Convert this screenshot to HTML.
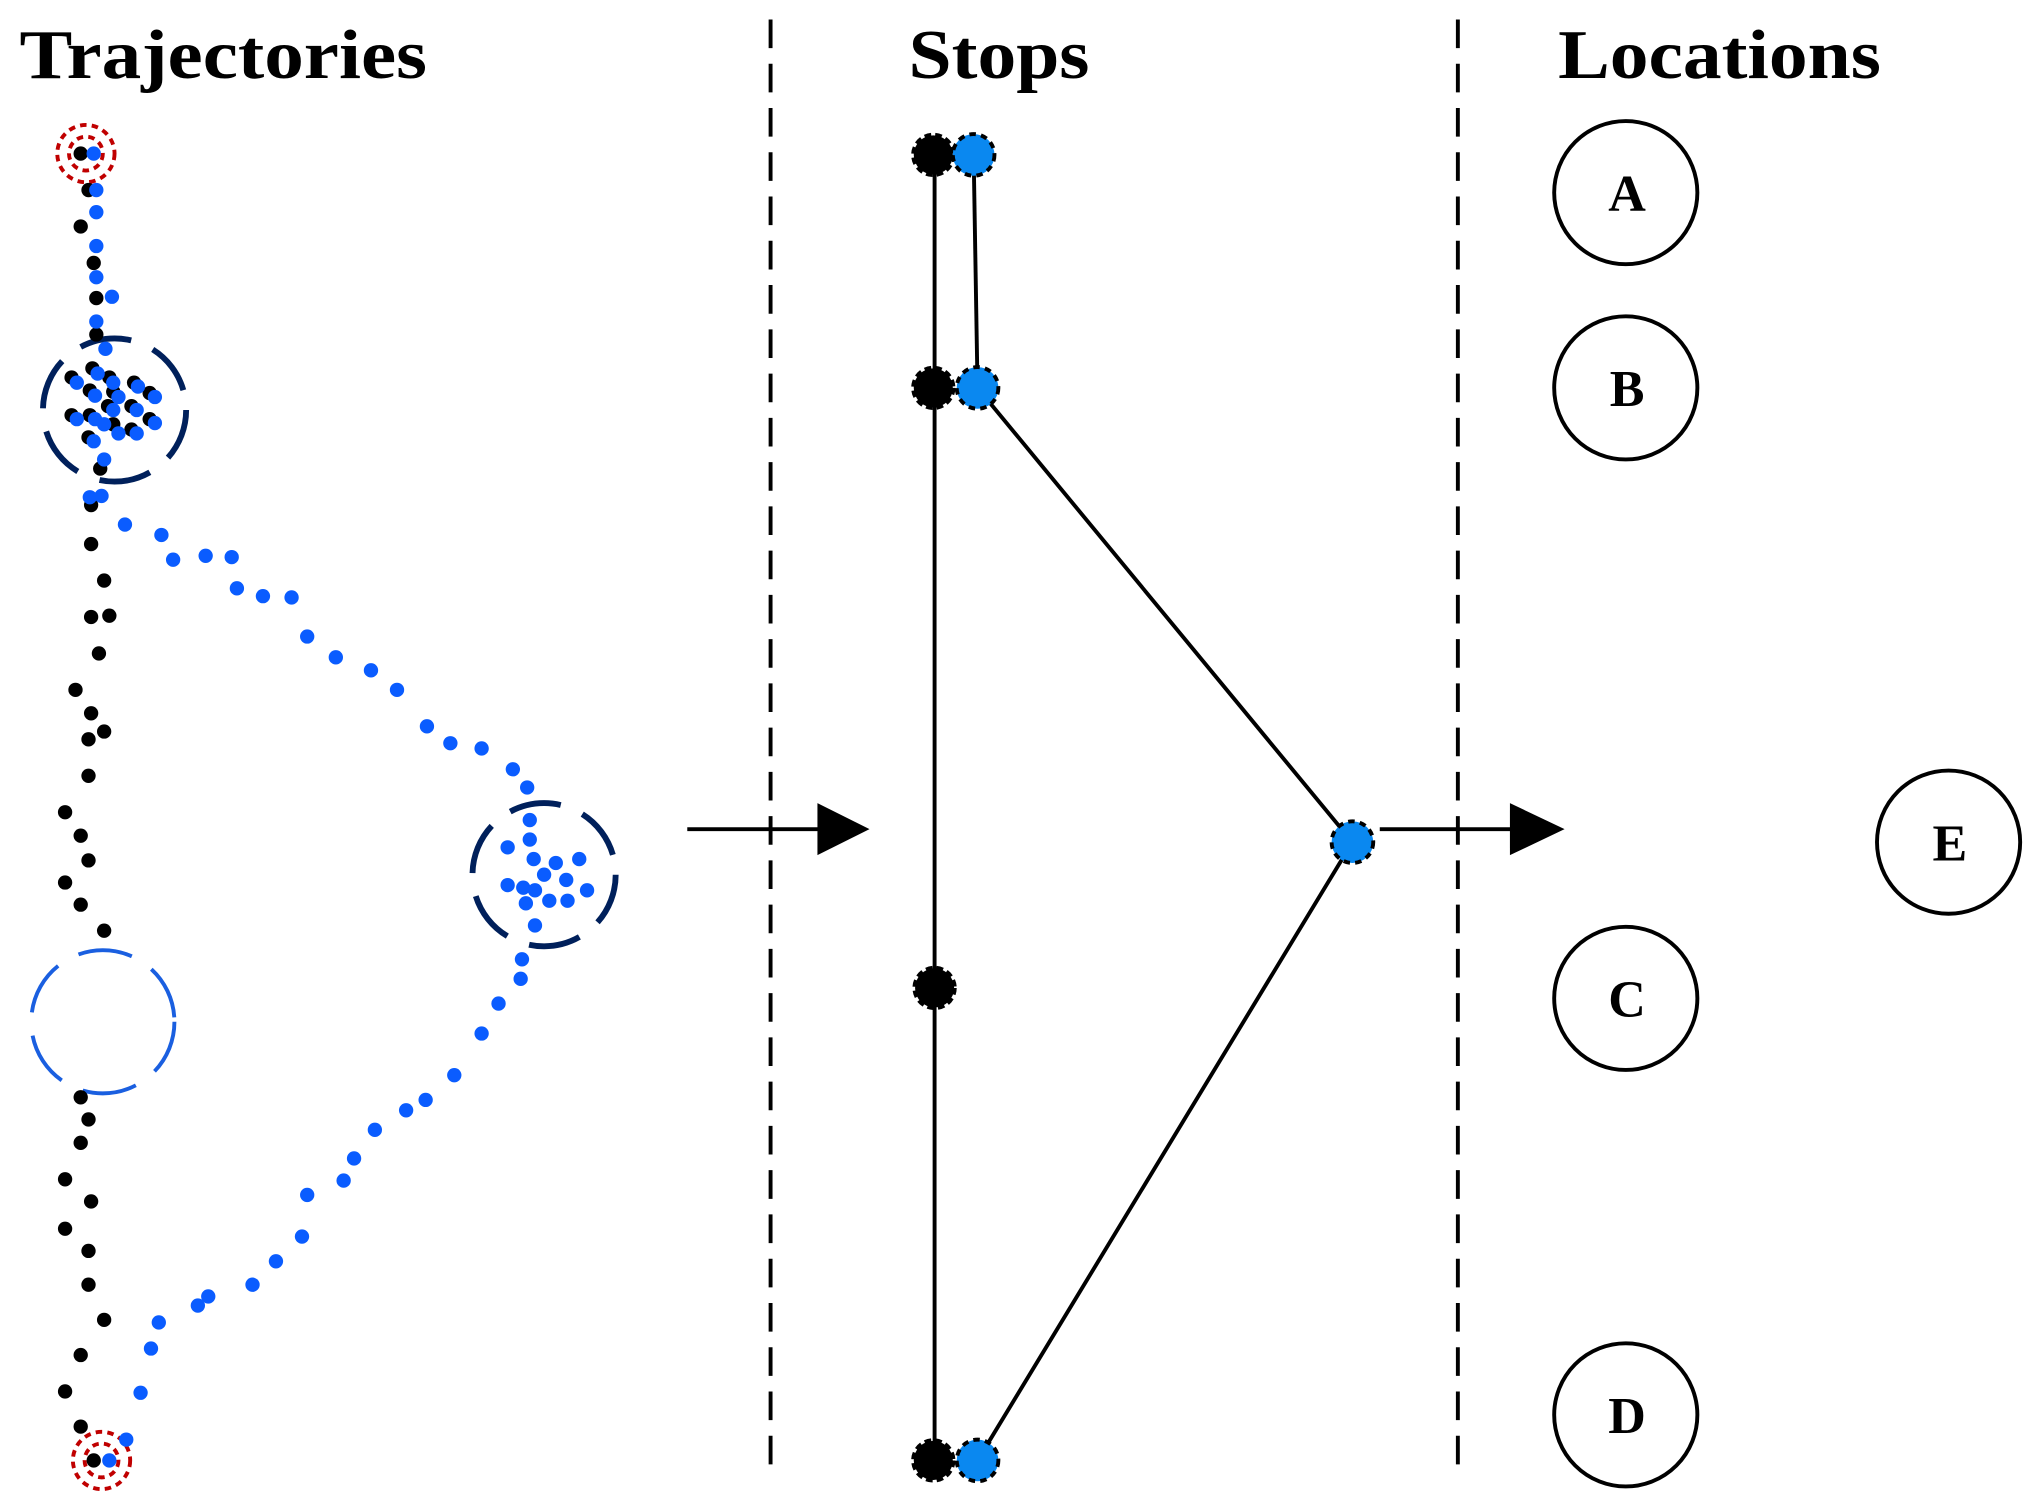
<!DOCTYPE html>
<html><head><meta charset="utf-8"><style>html,body{margin:0;padding:0;background:#fff}svg{display:block}</style></head><body>
<svg width="2041" height="1506" viewBox="0 0 1568 1157" preserveAspectRatio="none" xmlns="http://www.w3.org/2000/svg">
<g font-family="Liberation Serif, serif" font-weight="bold" fill="#000">
<text x="15" y="60" font-size="54" textLength="313" lengthAdjust="spacingAndGlyphs">Trajectories</text>
<text x="698" y="60" font-size="54" textLength="139" lengthAdjust="spacingAndGlyphs">Stops</text>
<text x="1197" y="60" font-size="54" textLength="248" lengthAdjust="spacingAndGlyphs">Locations</text>
</g>
<g stroke="#000" stroke-width="3" stroke-dasharray="22 12">
<line x1="592" y1="15" x2="592" y2="1125"/>
<line x1="1120" y1="15" x2="1120" y2="1125"/>
</g>
<g stroke="#000" stroke-width="3">
<line x1="528" y1="637" x2="632" y2="637"/>
<line x1="1060" y1="637" x2="1164" y2="637"/>
</g>
<polygon points="628,617 668,637 628,657" fill="#000"/>
<polygon points="1160,617 1202,637 1160,657" fill="#000"/>
<g fill="none" stroke="#000" stroke-width="3">
<circle cx="1249" cy="148" r="55"/><circle cx="1249" cy="298" r="55"/>
<circle cx="1249" cy="767" r="55"/><circle cx="1249" cy="1087" r="55"/>
<circle cx="1497" cy="647" r="55"/>
</g>
<g font-family="Liberation Serif, serif" font-weight="bold" font-size="40" text-anchor="middle">
<text x="1250" y="162">A</text><text x="1250" y="312">B</text>
<text x="1250" y="781">C</text><text x="1250" y="1101">D</text>
<text x="1498" y="661">E</text>
</g>
<g stroke="#000" stroke-width="3" fill="none">
<line x1="718" y1="119" x2="718" y2="1122"/>
<polyline points="748,119 751,298"/>
<polyline points="751,298 1039,647 751,1122"/>
</g>
<g fill="#000" stroke="#000" stroke-width="4" stroke-dasharray="5 3">
<circle cx="717" cy="119" r="15"/><circle cx="717" cy="298" r="15"/>
<circle cx="718" cy="759" r="15"/><circle cx="717" cy="1122" r="15"/>
</g>
<g fill="#0a88f0" stroke="#000" stroke-width="3" stroke-dasharray="5 4">
<circle cx="748" cy="119" r="16"/><circle cx="751" cy="298" r="16"/>
<circle cx="751" cy="1122" r="16"/><circle cx="1039" cy="647" r="16"/>
</g>
<g fill="none" stroke="#c00000" stroke-width="3" stroke-dasharray="5 4">
<circle cx="66" cy="118" r="22"/><circle cx="66" cy="118" r="13"/>
<circle cx="78" cy="1122" r="22"/><circle cx="78" cy="1122" r="13"/>
</g>
<g fill="none" stroke="#00205b" stroke-width="4.5" stroke-dasharray="40 18">
<circle cx="88" cy="315" r="55"/>
<circle cx="418" cy="672" r="55"/>
</g>
<circle cx="79" cy="785" r="55" fill="none" stroke="#1a5fe0" stroke-width="3" stroke-dasharray="42 18"/>
<g fill="#000">
<circle cx="62" cy="118" r="5.5"/><circle cx="68" cy="146" r="5.5"/><circle cx="62" cy="174" r="5.5"/><circle cx="72" cy="202" r="5.5"/><circle cx="74" cy="229" r="5.5"/><circle cx="74" cy="257" r="5.5"/>
<circle cx="71" cy="283" r="5.5"/><circle cx="55" cy="290" r="5.5"/><circle cx="84" cy="290" r="5.5"/><circle cx="103" cy="294" r="5.5"/><circle cx="69" cy="300" r="5.5"/><circle cx="87" cy="301" r="5.5"/><circle cx="115" cy="302" r="5.5"/><circle cx="83" cy="312" r="5.5"/><circle cx="101" cy="312" r="5.5"/><circle cx="55" cy="319" r="5.5"/><circle cx="69" cy="319" r="5.5"/><circle cx="87" cy="326" r="5.5"/><circle cx="101" cy="330" r="5.5"/><circle cx="115" cy="322" r="5.5"/><circle cx="68" cy="336" r="5.5"/><circle cx="77" cy="360" r="5.5"/>
<circle cx="70" cy="388" r="5.5"/><circle cx="70" cy="418" r="5.5"/><circle cx="80" cy="446" r="5.5"/><circle cx="70" cy="474" r="5.5"/><circle cx="84" cy="473" r="5.5"/><circle cx="76" cy="502" r="5.5"/><circle cx="58" cy="530" r="5.5"/><circle cx="70" cy="548" r="5.5"/><circle cx="68" cy="568" r="5.5"/><circle cx="80" cy="562" r="5.5"/><circle cx="68" cy="596" r="5.5"/><circle cx="50" cy="624" r="5.5"/><circle cx="62" cy="642" r="5.5"/><circle cx="68" cy="661" r="5.5"/><circle cx="50" cy="678" r="5.5"/><circle cx="62" cy="695" r="5.5"/><circle cx="80" cy="715" r="5.5"/>
<circle cx="62" cy="843" r="5.5"/><circle cx="68" cy="860" r="5.5"/><circle cx="62" cy="878" r="5.5"/><circle cx="50" cy="906" r="5.5"/><circle cx="70" cy="923" r="5.5"/><circle cx="50" cy="944" r="5.5"/><circle cx="68" cy="961" r="5.5"/><circle cx="68" cy="987" r="5.5"/><circle cx="80" cy="1014" r="5.5"/><circle cx="62" cy="1041" r="5.5"/><circle cx="50" cy="1069" r="5.5"/><circle cx="62" cy="1096" r="5.5"/><circle cx="72" cy="1122" r="5.5"/>
</g>
<g fill="#0a5cff">
<circle cx="72" cy="118" r="5.5"/><circle cx="74" cy="146" r="5.5"/><circle cx="74" cy="163" r="5.5"/><circle cx="74" cy="189" r="5.5"/><circle cx="74" cy="213" r="5.5"/><circle cx="86" cy="228" r="5.5"/><circle cx="74" cy="247" r="5.5"/><circle cx="81" cy="268" r="5.5"/>
<circle cx="75" cy="287" r="5.5"/><circle cx="59" cy="294" r="5.5"/><circle cx="87" cy="294" r="5.5"/><circle cx="106" cy="297" r="5.5"/><circle cx="73" cy="304" r="5.5"/><circle cx="91" cy="305" r="5.5"/><circle cx="119" cy="305" r="5.5"/><circle cx="87" cy="315" r="5.5"/><circle cx="105" cy="315" r="5.5"/><circle cx="59" cy="322" r="5.5"/><circle cx="73" cy="322" r="5.5"/><circle cx="80" cy="326" r="5.5"/><circle cx="91" cy="333" r="5.5"/><circle cx="105" cy="333" r="5.5"/><circle cx="119" cy="325" r="5.5"/><circle cx="72" cy="339" r="5.5"/><circle cx="80" cy="353" r="5.5"/>
<circle cx="69" cy="382" r="5.5"/><circle cx="78" cy="381" r="5.5"/><circle cx="96" cy="403" r="5.5"/><circle cx="124" cy="411" r="5.5"/><circle cx="133" cy="430" r="5.5"/><circle cx="158" cy="427" r="5.5"/><circle cx="178" cy="428" r="5.5"/><circle cx="182" cy="452" r="5.5"/><circle cx="202" cy="458" r="5.5"/><circle cx="224" cy="459" r="5.5"/><circle cx="236" cy="489" r="5.5"/><circle cx="258" cy="505" r="5.5"/><circle cx="285" cy="515" r="5.5"/><circle cx="305" cy="530" r="5.5"/><circle cx="328" cy="558" r="5.5"/><circle cx="346" cy="571" r="5.5"/><circle cx="370" cy="575" r="5.5"/><circle cx="394" cy="591" r="5.5"/><circle cx="405" cy="605" r="5.5"/>
<circle cx="407" cy="630" r="5.5"/><circle cx="407" cy="645" r="5.5"/><circle cx="390" cy="651" r="5.5"/><circle cx="410" cy="660" r="5.5"/><circle cx="427" cy="663" r="5.5"/><circle cx="445" cy="660" r="5.5"/><circle cx="390" cy="680" r="5.5"/><circle cx="418" cy="672" r="5.5"/><circle cx="435" cy="676" r="5.5"/><circle cx="451" cy="684" r="5.5"/><circle cx="402" cy="682" r="5.5"/><circle cx="411" cy="684" r="5.5"/><circle cx="422" cy="692" r="5.5"/><circle cx="436" cy="692" r="5.5"/><circle cx="404" cy="694" r="5.5"/>
<circle cx="411" cy="711" r="5.5"/><circle cx="401" cy="737" r="5.5"/><circle cx="400" cy="752" r="5.5"/><circle cx="383" cy="771" r="5.5"/><circle cx="370" cy="794" r="5.5"/><circle cx="349" cy="826" r="5.5"/><circle cx="327" cy="845" r="5.5"/><circle cx="312" cy="853" r="5.5"/><circle cx="288" cy="868" r="5.5"/><circle cx="272" cy="890" r="5.5"/><circle cx="264" cy="907" r="5.5"/><circle cx="236" cy="918" r="5.5"/><circle cx="232" cy="950" r="5.5"/><circle cx="212" cy="969" r="5.5"/><circle cx="194" cy="987" r="5.5"/><circle cx="160" cy="996" r="5.5"/><circle cx="152" cy="1003" r="5.5"/><circle cx="122" cy="1016" r="5.5"/><circle cx="116" cy="1036" r="5.5"/><circle cx="108" cy="1070" r="5.5"/><circle cx="97" cy="1106" r="5.5"/><circle cx="84" cy="1122" r="5.5"/>
</g>
</svg>
</body></html>
